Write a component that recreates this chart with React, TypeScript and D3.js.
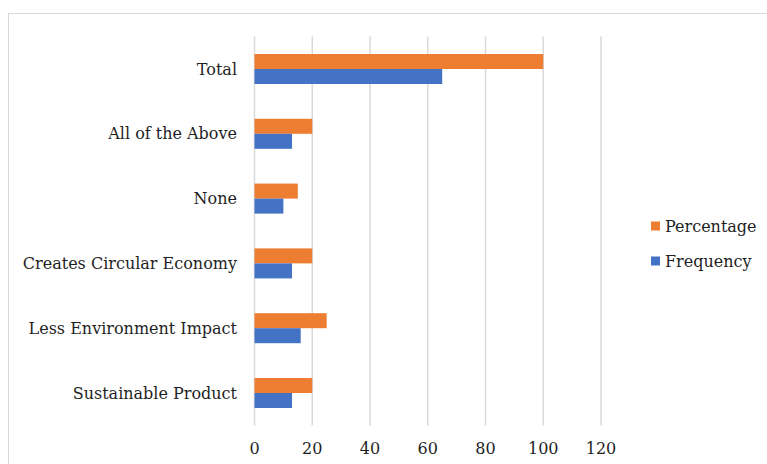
import React from "react";
import * as d3 from "d3";

const categories = [
  "Sustainable Product",
  "Less Environment Impact",
  "Creates Circular Economy",
  "None",
  "All of the Above",
  "Total",
];
const frequency = [13, 16, 13, 10, 13, 65];
const percentage = [20, 25, 20, 15, 20, 100];
const xTicks = [0, 20, 40, 60, 80, 100, 120];
const seriesNames = ["Percentage", "Frequency"];
const seriesColors = ["#ED7D31", "#4472C4"];

export default function App() {
  const W = 767;
  const H = 464;
  const left = 254.5;
  const right = 601;
  const top = 36.6;
  const bottom = 425.4;
  const x = d3.scaleLinear().domain([0, 120]).range([left, right]);
  const y = d3
    .scaleBand<string>()
    .domain([...categories].reverse())
    .range([top, bottom])
    .paddingInner(0.537)
    .paddingOuter(0.2685);
  const inner = d3
    .scaleBand<string>()
    .domain(seriesNames)
    .range([0, y.bandwidth()]);
  const values: Record<string, number[]> = {
    Percentage: percentage,
    Frequency: frequency,
  };
  const font = "'DejaVu Serif', serif";
  return (
    <div style={{ position: "absolute", left: 0, top: 0 }}>
      <svg width={W} height={H} style={{ display: "block" }}>
        <rect x={0} y={0} width={W} height={H} fill="#fff" />
        <rect
          x={8.5}
          y={13.5}
          width={W}
          height={H}
          fill="none"
          stroke="#d9d9d9"
          strokeWidth={1}
        />
        {xTicks.map((t) => (
          <line
            key={t}
            x1={x(t)}
            x2={x(t)}
            y1={top}
            y2={bottom}
            stroke="#d9d9d9"
            strokeWidth={1.5}
          />
        ))}
        {categories.map((c, i) =>
          seriesNames.map((s) => (
            <rect
              key={c + s}
              x={x(0)}
              y={(y(c) as number) + (inner(s) as number)}
              width={x(values[s][i]) - x(0)}
              height={inner.bandwidth()}
              fill={seriesColors[seriesNames.indexOf(s)]}
            />
          ))
        )}
        {categories.map((c) => (
          <text
            key={c}
            x={237}
            y={(y(c) as number) + y.bandwidth() / 2}
            textAnchor="end"
            dominantBaseline="central"
            fontFamily={font}
            fontSize={16}
            fill="#1f1f1f"
          >
            {c}
          </text>
        ))}
        {xTicks.map((t) => (
          <text
            key={t}
            x={x(t)}
            y={448}
            textAnchor="middle"
            dominantBaseline="central"
            fontFamily={font}
            fontSize={16}
            fill="#1f1f1f"
          >
            {t}
          </text>
        ))}
        {seriesNames.map((s, i) => (
          <g key={s} transform={`translate(651, ${226 + i * 35})`}>
            <rect x={0} y={-4.5} width={9} height={9} fill={seriesColors[i]} />
            <text
              x={14}
              y={0}
              dominantBaseline="central"
              fontFamily={font}
              fontSize={16}
              fill="#1f1f1f"
            >
              {s}
            </text>
          </g>
        ))}
      </svg>
    </div>
  );
}
